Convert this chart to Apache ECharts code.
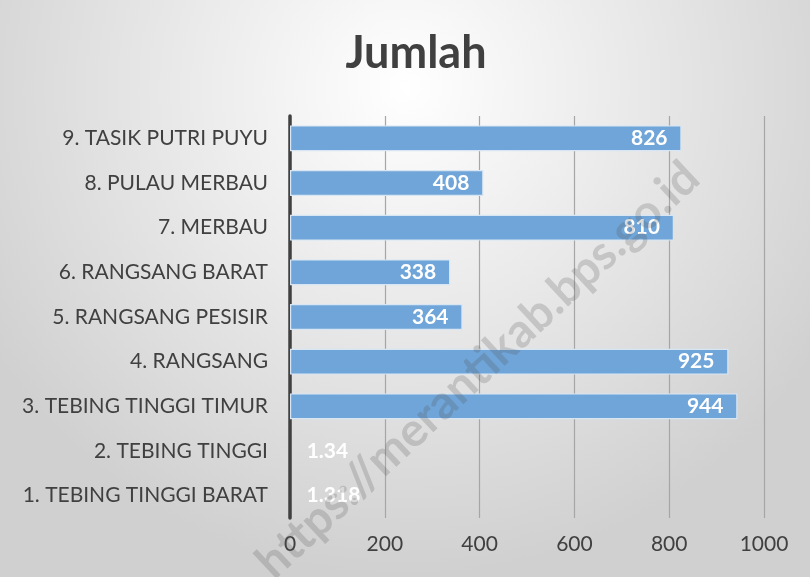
<!DOCTYPE html>
<html lang="en">
<head>
<meta charset="UTF-8">
<title>Jumlah</title>
<script src="https://cdn.jsdelivr.net/npm/echarts@6/dist/echarts.min.js"></script>
<style>
  html, body { margin: 0; padding: 0; background: #fff; }
  #main { width: 810px; height: 577px; }
</style>
</head>
<body>
<div id="main"></div>
<script>
const categories = [
  '1. TEBING TINGGI BARAT',
  '2. TEBING TINGGI',
  '3. TEBING TINGGI TIMUR',
  '4. RANGSANG',
  '5. RANGSANG PESISIR',
  '6. RANGSANG BARAT',
  '7. MERBAU',
  '8. PULAU MERBAU',
  '9. TASIK PUTRI PUYU'
];
const jumlah = [1.318, 1.34, 944, 925, 364, 338, 810, 408, 826];
const valueTicks = [0, 200, 400, 600, 800, 1000];

const font = 'Lato, "Open Sans", sans-serif';

var chart = echarts.init(document.getElementById('main'));
var option = {
  backgroundColor: {
    type: 'radial', x: 0.5, y: 0.15, r: 0.85,
    colorStops: [
      { offset: 0, color: '#ffffff' },
      { offset: 1, color: '#d0d0d0' }
    ]
  },
  title: {
    text: 'Jumlah',
    left: 411,
    textAlign: 'center',
    top: 26,
    textStyle: { fontFamily: font, fontSize: 45, fontWeight: 'bold', color: '#404040' }
  },
  grid: { left: 290, right: 46, top: 116, bottom: 59 },
  xAxis: {
    type: 'value',
    min: valueTicks[0],
    max: valueTicks[valueTicks.length - 1],
    interval: 200,
    axisLine: { show: false },
    axisTick: { show: false },
    splitLine: { lineStyle: { color: '#a6a6a6', width: 1.2 } },
    axisLabel: { fontFamily: font, fontSize: 21, color: '#404040', margin: 16, formatter: v => String(v) }
  },
  yAxis: {
    type: 'category',
    data: categories,
    axisLine: { show: true, lineStyle: { color: '#404040', width: 3.5 } },
    axisTick: { show: false },
    axisLabel: { fontFamily: font, fontSize: 21, color: '#404040', margin: 22 }
  },
  series: [{
    type: 'bar',
    barWidth: '58%',
    data: jumlah.map(v => v < 50
      ? { value: v, itemStyle: { borderWidth: 0, color: 'rgba(0,0,0,0)' }, label: { position: 'right', distance: 16 } }
      : v),
    itemStyle: { color: '#6fa5d8', borderColor: '#d8e6f4', borderWidth: 1.2 },
    label: {
      show: true,
      position: 'insideRight',
      distance: 14,
      color: '#ffffff',
      fontFamily: font,
      fontSize: 21,
      fontWeight: 'bold'
    },
    silent: true
  }],
  graphic: [{
    type: 'text',
    x: 478,
    y: 370,
    rotation: Math.PI * 43 / 180,
    style: {
      text: 'https://merantikab.bps.go.id',
      font: 'bold 47px ' + font,
      fill: 'rgba(80,80,80,0.22)',
      textAlign: 'center',
      textVerticalAlign: 'middle'
    },
    z: 100
  }]
};
chart.setOption(option);
</script>
</body>
</html>
